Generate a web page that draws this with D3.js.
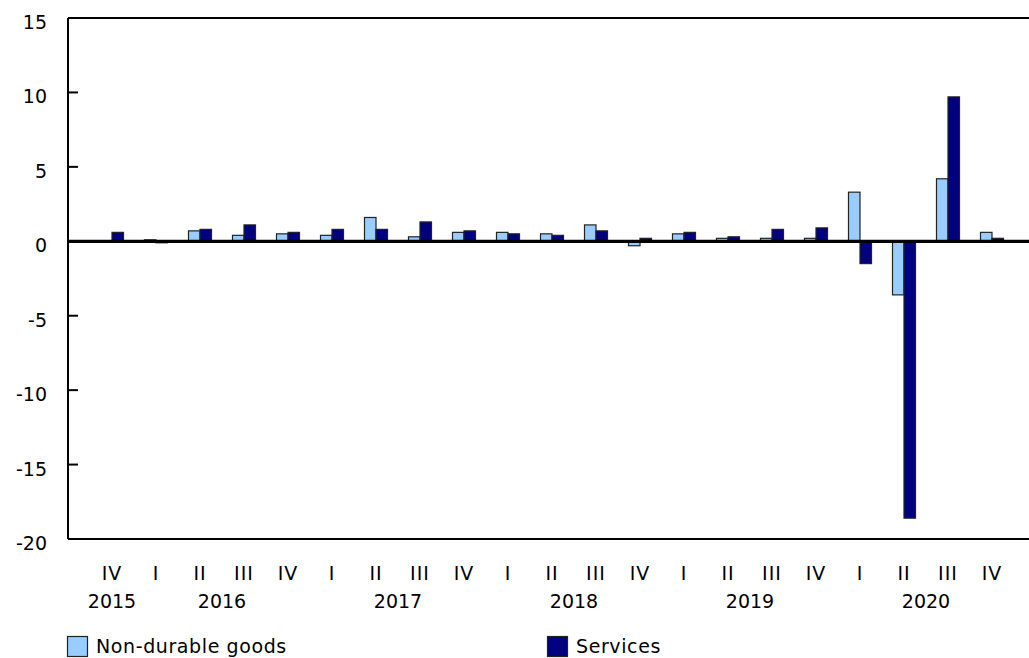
<!DOCTYPE html>
<html>
<head>
<meta charset="utf-8">
<script src="https://cdn.jsdelivr.net/npm/d3@7"></script>
<style>
  html, body { margin: 0; padding: 0; background: #fff; }
  svg { display: block; font-family: Verdana, "DejaVu Sans", sans-serif; }
</style>
</head>
<body>
<svg id="chart" width="1029" height="658"></svg>
<script>
// Quarterly percentage change, household spending by type
const quarters = ["IV", "I", "II", "III", "IV", "I", "II", "III", "IV", "I", "II", "III", "IV", "I", "II", "III", "IV", "I", "II", "III", "IV"];
const years = [
  { label: "2015", first: 0, last: 0 },
  { label: "2016", first: 1, last: 4 },
  { label: "2017", first: 5, last: 8 },
  { label: "2018", first: 9, last: 12 },
  { label: "2019", first: 13, last: 16 },
  { label: "2020", first: 17, last: 20 }
];
const seriesNames = ["Non-durable goods", "Services"];
const nonDurable = [0.0, 0.1, 0.7, 0.4, 0.5, 0.4, 1.6, 0.3, 0.6, 0.6, 0.5, 1.1, -0.3, 0.5, 0.2, 0.2, 0.2, 3.3, -3.6, 4.2, 0.6];
const services   = [0.6, -0.1, 0.8, 1.1, 0.6, 0.8, 0.8, 1.3, 0.7, 0.5, 0.4, 0.7, 0.2, 0.6, 0.3, 0.8, 0.9, -1.5, -18.6, 9.7, 0.2];
const yTicks = [15, 10, 5, 0, -5, -10, -15, -20];
const colors = ["#99ccff", "#000080"];

const svg = d3.select("#chart");
const W = 1029;
const axisX = 68;
const fontSize = 19;

const y = d3.scaleLinear().domain([-20, 15]).range([539, 18]);
const x0 = d3.scaleBand()
  .domain(d3.range(quarters.length))
  .range([90, 1014])
  .paddingInner(0.477)
  .paddingOuter(0.2385);
const x1 = d3.scaleBand().domain(d3.range(seriesNames.length)).range([0, x0.bandwidth()]);

const seriesValues = [nonDurable, services];

// Frame lines at the top and bottom of the value range
svg.append("g").selectAll("line")
  .data([15, -20])
  .join("line")
  .attr("x1", axisX).attr("x2", W)
  .attr("y1", d => y(d)).attr("y2", d => y(d))
  .attr("stroke", "#000").attr("stroke-width", 2);

// Bars
const groups = svg.append("g").selectAll("g")
  .data(d3.range(quarters.length))
  .join("g")
  .attr("transform", i => `translate(${x0(i)},0)`);

groups.selectAll("rect")
  .data(i => seriesValues.map((vals, s) => ({ s, v: vals[i] })))
  .join("rect")
  .filter(d => d.v !== 0)
  .attr("x", d => x1(d.s))
  .attr("width", x1.bandwidth())
  .attr("y", d => y(Math.max(0, d.v)))
  .attr("height", d => Math.abs(y(d.v) - y(0)))
  .attr("fill", d => colors[d.s])
  .attr("stroke", "#222")
  .attr("stroke-width", 1.2);

// Zero line
svg.append("line")
  .attr("x1", axisX).attr("x2", W)
  .attr("y1", y(0)).attr("y2", y(0))
  .attr("stroke", "#000").attr("stroke-width", 3.2);

// Left axis with inward ticks
const yAxis = svg.append("g");
yAxis.append("line")
  .attr("x1", axisX).attr("x2", axisX)
  .attr("y1", y(15)).attr("y2", y(-20))
  .attr("stroke", "#000").attr("stroke-width", 2);
yAxis.selectAll("line.tick")
  .data(yTicks)
  .join("line")
  .attr("class", "tick")
  .attr("x1", axisX).attr("x2", axisX + 10)
  .attr("y1", d => y(d)).attr("y2", d => y(d))
  .attr("stroke", "#000").attr("stroke-width", 2);
yAxis.selectAll("text")
  .data(yTicks)
  .join("text")
  .attr("x", 47)
  .attr("y", d => y(d) + 11)
  .attr("text-anchor", "end")
  .attr("font-size", fontSize)
  .attr("fill", "#000")
  .text(d => d);

// Quarter labels
svg.append("g").selectAll("text")
  .data(quarters)
  .join("text")
  .attr("x", (d, i) => x0(i) + x0.bandwidth() / 2)
  .attr("y", 580)
  .attr("text-anchor", "middle")
  .attr("font-size", fontSize)
  .attr("letter-spacing", 1)
  .attr("fill", "#000")
  .text(d => d);

// Year labels centred under their quarters
svg.append("g").selectAll("text")
  .data(years)
  .join("text")
  .attr("x", d => (x0(d.first) + x0(d.last) + x0.bandwidth()) / 2)
  .attr("y", 608)
  .attr("text-anchor", "middle")
  .attr("font-size", fontSize)
  .attr("fill", "#000")
  .text(d => d.label);

// Legend
const legendX = [67, 547];
const legend = svg.append("g").selectAll("g")
  .data(seriesNames)
  .join("g")
  .attr("transform", (d, i) => `translate(${legendX[i]},636)`);
legend.append("rect")
  .attr("x", 0.5).attr("y", 0.5)
  .attr("width", 20).attr("height", 20)
  .attr("fill", (d, i) => colors[i])
  .attr("stroke", "#222").attr("stroke-width", 1.2);
legend.append("text")
  .attr("x", 29)
  .attr("y", 17)
  .attr("font-size", fontSize)
  .attr("letter-spacing", 0.6)
  .attr("fill", "#000")
  .text(d => d);
</script>
</body>
</html>
